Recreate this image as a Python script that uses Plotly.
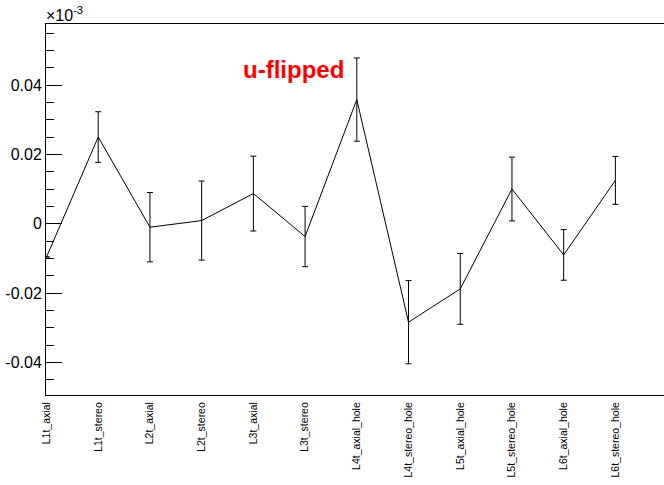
import plotly.graph_objects as go

categories = ["L1t_axial", "L1t_stereo", "L2t_axial", "L2t_stereo", "L3t_axial", "L3t_stereo",
              "L4t_axial_hole", "L4t_stereo_hole", "L5t_axial_hole", "L5t_stereo_hole",
              "L6t_axial_hole", "L6t_stereo_hole"]
values = [-0.0096, 0.0250, -0.0010, 0.0009, 0.0087, -0.0037,
          0.0358, -0.0284, -0.0188, 0.0100, -0.0090, 0.0125]
errors = [None, 0.0073, 0.0100, 0.0114, 0.0108, 0.0087,
          0.0120, 0.0120, 0.0102, 0.0092, 0.0073, 0.0069]
ytick_vals = [-0.04, -0.02, 0, 0.02, 0.04]
ytick_text = ["-0.04", "-0.02", "0", "0.02", "0.04"]

xpos = list(range(len(categories)))

fig = go.Figure()
fig.add_trace(go.Scatter(
    x=xpos, y=values, mode="lines",
    line=dict(color="black", width=1),
    error_y=dict(type="data", array=errors, visible=True, color="black", thickness=1, width=3),
    showlegend=False, cliponaxis=True, hoverinfo="skip",
))

font_family = "Liberation Sans, Arial, Helvetica, sans-serif"

fig.update_layout(
    width=664, height=485,
    margin=dict(l=46, r=0, t=24, b=90, autoexpand=False),
    paper_bgcolor="white", plot_bgcolor="white",
    font=dict(family=font_family, color="black"),
    xaxis=dict(
        range=[-0.01, 11.94], automargin=False,
        tickmode="array", tickvals=xpos, ticktext=categories,
        tickangle=-90, ticks="", tickfont=dict(size=10.5, color="black"),
        ticklabelstandoff=2,
        showgrid=False, zeroline=False,
        showline=True, linecolor="black", linewidth=1, mirror=True,
    ),
    yaxis=dict(
        range=[-0.0494, 0.0576], automargin=False,
        tickmode="array", tickvals=ytick_vals, ticktext=ytick_text,
        ticks="inside", ticklen=16, tickwidth=1, tickcolor="black",
        tickfont=dict(size=16, color="black"),
        minor=dict(tickmode="linear", tick0=0, dtick=0.005, ticks="inside", ticklen=8,
                   tickwidth=1, tickcolor="black", showgrid=False),
        showgrid=False, zeroline=False,
        showline=True, linecolor="black", linewidth=1, mirror=False,
    ),
    annotations=[
        dict(text="u-flipped", xref="paper", yref="paper", x=0.401, y=0.877,
             xanchor="center", yanchor="middle", showarrow=False,
             font=dict(size=24, color="red", family=font_family, weight="bold")),
        dict(text="×10<sup>-3</sup>", xref="paper", yref="paper", x=-0.003, y=0.995,
             xanchor="left", yanchor="bottom", showarrow=False,
             font=dict(size=16, color="black", family=font_family)),
    ],
)

fig.write_html("out.html", config={"displayModeBar": False},
               post_script="document.body.style.margin='0';document.body.style.padding='0';")
